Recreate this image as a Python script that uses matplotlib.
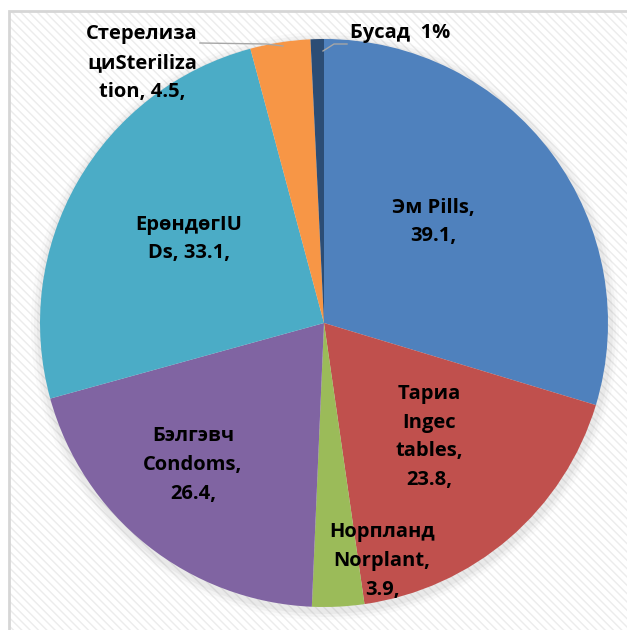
import matplotlib
matplotlib.use('Agg')
import matplotlib.pyplot as plt
from matplotlib.patches import Rectangle, Circle

# data (clockwise from top)
names = ['Эм Pills,\n39.1,', 'Тариа\nIngec\ntables,\n23.8,', 'Норпланд\nNorplant,\n3.9,',
         'Бэлгэвч\nCondoms,\n26.4,', 'ЕрөндөгIU\nDs, 33.1,', 'Стерелиза\nциSteriliza\ntion, 4.5,',
         'Бусад  1%']
values = [39.1, 23.8, 3.9, 26.4, 33.1, 4.5, 1]
colors = ['#4F81BD', '#C0504D', '#9BBB59', '#8064A2', '#4BACC6', '#F79646', '#2C4D75']

W, H = 627, 630
cx, cy, R = 324, H - 323, 284

# label offsets from pie centre in pixels (dx, dy up), alignment
label_pos = [(109, 101, 'center'), (105, -114, 'center'), (58, -238, 'center'),
             (-131, -142, 'center'), (-135, 84, 'center'), (-182, 260, 'center'),
             (26, 290, 'left')]

plt.rcParams['font.family'] = ['Open Sans', 'DejaVu Sans']

fig = plt.figure(figsize=(W / 100, H / 100), dpi=100)
ax = fig.add_axes([0, 0, 1, 1])

# background with faint diagonal texture and frame
ax.add_patch(Rectangle((0, 0), W, H, facecolor='white', edgecolor='none', zorder=0))
ax.add_patch(Rectangle((9, -5), W + 10, H - 11 + 5, facecolor='white', edgecolor='#ececec',
                       hatch='\\\\\\\\', lw=0, zorder=0.5))
ax.add_patch(Rectangle((9, -5), W + 10, H - 11 + 5, facecolor='none', edgecolor='#d6d6d6',
                       lw=2, zorder=0.6))

# soft shadow behind the pie
for dr, a in [(10, 0.04), (7, 0.06), (4, 0.08)]:
    ax.add_patch(Circle((cx + 1, cy - 3), R + dr, facecolor='#808080', edgecolor='none',
                        alpha=a, zorder=1))

wedges, _ = ax.pie(values, colors=colors, startangle=90, counterclock=False,
                   center=(cx, cy), radius=R, frame=True,
                   wedgeprops=dict(linewidth=0, zorder=2))
ax.set_xlim(0, W)
ax.set_ylim(0, H)
ax.set_aspect('equal')
ax.axis('off')

for name, (dx, dy, ha) in zip(names, label_pos):
    ax.text(cx + dx, cy + dy, name, ha=ha, va='center', fontsize=14.5,
            fontweight='bold', color='black', linespacing=1.58, zorder=5)

# leader lines
ax.plot([200, 266, 283], [H - 43, H - 44, H - 46], color='#a6a6a6', lw=1, zorder=4)
ax.plot([323, 334, 347], [H - 51, H - 44, H - 44], color='#a6a6a6', lw=1, zorder=4)

fig.savefig('out.png', dpi=100)
